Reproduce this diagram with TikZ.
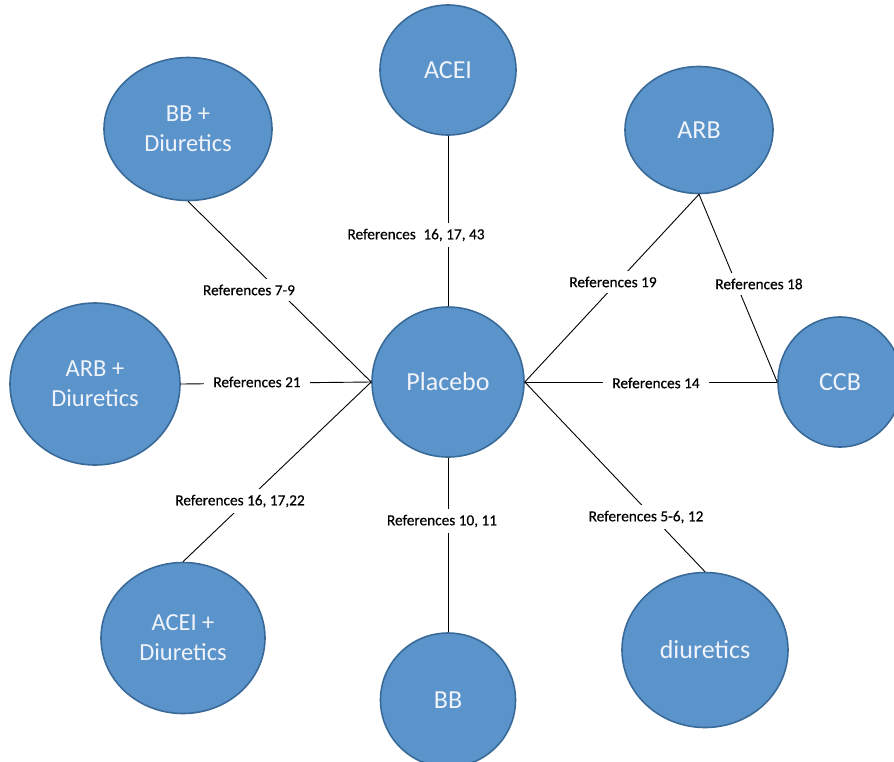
\documentclass[tikz,border=0pt]{standalone}
\usepackage{fontspec}
\setmainfont{Carlito}
\newfontfamily\lblfont[FakeBold=0.4]{Carlito}
\usetikzlibrary{shapes.geometric}
\definecolor{nodefill}{RGB}{91,147,203}
\definecolor{nodeedge}{RGB}{58,106,152}
\definecolor{nodetext}{RGB}{240,244,250}
\begin{document}
\begin{tikzpicture}[x=1pt,y=-1pt,
  drug/.style={ellipse, draw=nodeedge, line width=1.6pt, fill=nodefill, text=nodetext,
    inner sep=0pt, font=\fontsize{24.5}{30}\selectfont, align=center},
  big/.style={font=\fontsize{26}{30}\selectfont},
  lbl/.style={fill=white, inner xsep=9pt, inner ysep=6pt, font=\lblfont\fontsize{15.3}{17}\selectfont},
  link/.style={black, line width=0.9pt}]
\clip (0,0) rectangle (894,761);
\fill[white] (0,0) rectangle (894,761);
% nodes
\node[drug, big, minimum width=152pt, minimum height=150pt] (pl) at (448,382) {Placebo};
\node[drug, big, minimum width=136pt, minimum height=130pt] (acei) at (448,70) {ACEI};
\node[drug, minimum width=168pt, minimum height=143pt] (bbd) at (188,129) {BB +\\Diuretics};
\node[drug, big, minimum width=148pt, minimum height=127pt] (arb) at (699,130) {ARB};
\node[drug, minimum width=170pt, minimum height=162pt] (arbd) at (95,384) {ARB +\\Diuretics};
\node[drug, big, minimum width=124pt, minimum height=130pt] (ccb) at (840,382) {CCB};
\node[drug, minimum width=164pt, minimum height=151pt] (aceid) at (183,638) {ACEI +\\Diuretics};
\node[drug, big, minimum width=135pt, minimum height=134pt] (bb) at (448,700) {BB};
\node[drug, big, minimum width=166pt, minimum height=155pt] (diu) at (705,650) {diuretics};
% connectors
\draw[link] (acei.south) -- (pl.north);
\draw[link] (bbd.south) -- (pl.west);
\draw[link] (arbd.east) -- (pl.west);
\draw[link] (aceid.north) -- (pl.west);
\draw[link] (bb.north) -- (pl.south);
\draw[link] (diu.north) -- (pl.east);
\draw[link] (ccb.west) -- (pl.east);
\draw[link] (arb.south) -- (pl.east);
\draw[link] (arb.south) -- (ccb.west);
% labels
\node[lbl] (l1) at (416,235) {References\enspace 16, 17, 43};
\node[lbl] (l2) at (249,290) {References 7-9};
\node[lbl] (l3) at (257,382) {References 21};
\node[lbl] (l4) at (240,501) {References 16, 17,22};
\node[lbl] (l5) at (442,521) {References 10, 11};
\node[lbl] (l6) at (646,517) {References 5-6, 12};
\node[lbl] (l7) at (656,383) {References 14};
\node[lbl] (l8) at (613,282) {References 19};
\node[lbl] (l9) at (759,284) {References 18};
\end{tikzpicture}
\end{document}
